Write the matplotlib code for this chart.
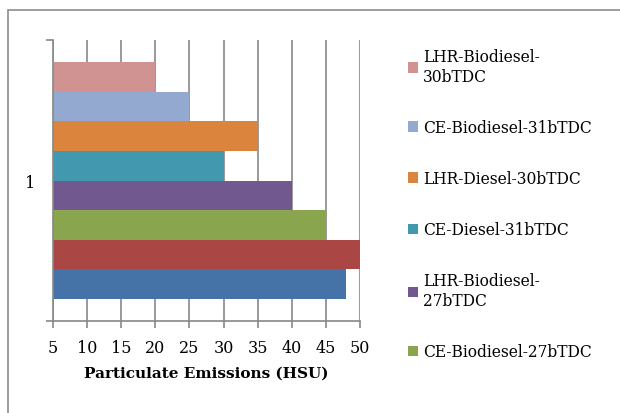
import matplotlib.pyplot as plt
from matplotlib.patches import Rectangle

# series in drawing order, bottom bar first
series = ["CE-Diesel-27bTDC", "LHR-Diesel-27bTDC", "CE-Biodiesel-27bTDC",
          "LHR-Biodiesel-\n27bTDC", "CE-Diesel-31bTDC", "LHR-Diesel-30bTDC",
          "CE-Biodiesel-31bTDC", "LHR-Biodiesel-\n30bTDC"]
values = [48, 50, 45, 40, 30, 35, 25, 20]
colors = ["#4572A7", "#AA4643", "#89A54E", "#71588F",
          "#4198AF", "#DB843D", "#93A9CF", "#D19392"]
category = ["1"]
xticks = [5, 10, 15, 20, 25, 30, 35, 40, 45, 50]

plt.rcParams['font.family'] = ['DejaVu Serif']

fig = plt.figure(figsize=(6.2, 4.14), dpi=100)
ax = fig.add_axes([53/620, 1 - 322/414, 307/620, 281/414])

h = 237 / 281 / len(values)
bars = []
for i, (name, v, c) in enumerate(zip(series, values, colors)):
    b = ax.barh((i - 3.5) * h, v, height=h, color=c, label=name, zorder=2)
    bars.append(b)

ax.set_xlim(5, 50)
ax.set_ylim(-0.5, 0.5)
ax.set_xticks(xticks)
ax.set_xticklabels([str(t) for t in xticks], fontsize=11.5)
ax.set_yticks([0])
ax.set_yticklabels(category, fontsize=11.5)
ax.set_yticks([-0.5, 0.5], minor=True)
ax.tick_params(axis='y', which='major', length=0, pad=13)
ax.tick_params(axis='y', which='minor', length=5, color='#888888', width=1.2)
ax.tick_params(axis='x', length=5, color='#888888', width=1.2, pad=8)
ax.grid(axis='x', color='#888888', linewidth=1.2, zorder=0)
ax.set_axisbelow(True)
for s in ['top', 'right']:
    ax.spines[s].set_visible(False)
for s in ['left', 'bottom']:
    ax.spines[s].set_color('#888888')
    ax.spines[s].set_linewidth(1.2)
ax.set_xlabel("Particulate Emissions (HSU)", fontsize=11, fontweight='bold', labelpad=7)

# legend shows only the top six series, as in the original
shown = list(range(len(series) - 1, 1, -1))
leg = fig.legend([bars[i] for i in shown], [series[i] for i in shown],
                 loc='upper left', bbox_to_anchor=(408/620, 1 - 49/414),
                 frameon=False, fontsize=11.2, labelspacing=2.2,
                 handlelength=0.65, handleheight=0.65, handletextpad=0.3,
                 borderpad=0, borderaxespad=0)

fig.patches.append(Rectangle((8/620, -0.1), 1.0, (414 - 11)/414 + 0.1,
                             transform=fig.transFigure, fill=False,
                             edgecolor='#8c8c8c', linewidth=1.2))

fig.savefig("out.png", dpi=100)
